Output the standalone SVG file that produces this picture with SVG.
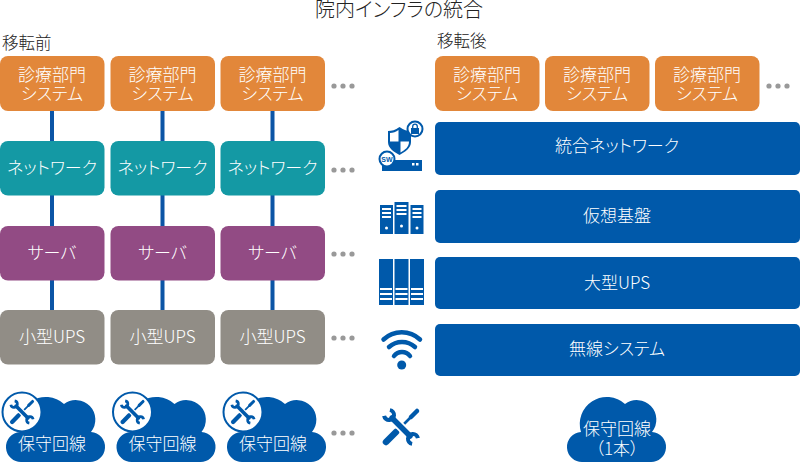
<svg xmlns="http://www.w3.org/2000/svg" width="800" height="463" viewBox="0 0 800 463">
<style>
text{font-family:"Noto Sans CJK JP","Noto Sans",sans-serif;text-anchor:middle;font-feature-settings:"palt";font-weight:300}
.t{fill:#222;font-size:20px}
.h{fill:#222;font-size:16.5px;text-anchor:start}
.w{fill:#fff;font-size:17px}
.o{fill:#E2873A}.g{fill:#1499A4}.p{fill:#924B84}.y{fill:#918D86}.b{fill:#0059AA}
.c{stroke:#0C55A6;stroke-width:4;fill:none}
.d{fill:#999}
.ic{fill:#0059AA}
.wh{fill:#fff}
</style>
<defs>
<g id="tool" fill="none" stroke="#0059AA" stroke-linecap="round">
<path d="M-15 15L-5 5" stroke-width="6.500"/>
<path d="M-5 5L9 -9" stroke-width="2.600"/>
<path d="M10 -10L16 -16" stroke-width="4.500"/>
<path d="M-9 -9L9 9" stroke="#fff" stroke-width="9" stroke-linecap="butt"/>
<path d="M-9 -9L9 9" stroke-width="5.500"/>
<path d="M-16.900 -11.100A5 5 0 1 0 -11.100 -16.900M16.900 11.100A5 5 0 1 0 11.100 16.900" stroke-width="4" stroke-linecap="butt"/>
</g>
<path id="cloud" class="b" d="M22 462A15 15 0 0 1 20 432A27 27 0 0 1 64 404A19.600 19.600 0 0 1 91 432A15 15 0 0 1 89 462Z"/>
<g id="cloudTool">
<use href="#cloud"/>
<circle cx="22" cy="412" r="19.500" fill="#fff" stroke="#0059AA" stroke-width="2"/>
<use href="#tool" transform="translate(22 412) scale(.66)"/>
<text class="w" x="52" y="450">保守回線</text>
</g>
<g id="dots"><circle class="d" cx="0" cy="0" r="2.600"/><circle class="d" cx="9" cy="0" r="2.600"/><circle class="d" cx="18" cy="0" r="2.600"/></g>
<g id="sys"><rect class="o" width="104.500" height="55" rx="8"/><text class="w" x="52" y="25">診療部門</text><text class="w" x="52" y="43.500">システム</text></g>
<g id="net"><rect class="g" width="104.500" height="54.500" rx="8"/><text class="w" x="52" y="33">ネットワーク</text></g>
<g id="srv"><rect class="p" width="104.500" height="54.500" rx="8"/><text class="w" x="52" y="33">サーバ</text></g>
<g id="ups"><rect class="y" width="104.500" height="54.500" rx="8"/><text class="w" x="52" y="33">小型UPS</text></g>
<g id="tower"><rect class="ic" width="13" height="29"/><rect class="wh" x="2" y="3" width="9" height="2"/><rect class="wh" x="2" y="7" width="9" height="2"/><rect class="wh" x="2" y="11" width="9" height="2"/><circle class="wh" cx="6.500" cy="23" r="1.500"/></g>
<g id="upsBar"><rect class="ic" width="14" height="46"/><rect class="wh" x="1" y="29" width="12" height="2"/><rect class="wh" x="1" y="34" width="12" height="2"/><rect class="wh" x="1" y="39" width="12" height="2"/></g>
</defs>
<g id="titles">
<text class="t" x="399" y="17">院内インフラの統合</text>
<text class="h" x="2" y="49">移転前</text>
<text class="h" x="437" y="47">移転後</text>
</g>
<g id="connectors">
<path class="c" d="M52 111V141M52 195V226M52 280V310M162.500 111V141M162.500 195V226M162.500 280V310M272.500 111V141M272.500 195V226M272.500 280V310"/>
</g>
<g id="before-sys-1"><use href="#sys" x="0" y="56"/></g>
<g id="before-sys-2"><use href="#sys" x="110.500" y="56"/></g>
<g id="before-sys-3"><use href="#sys" x="220.500" y="56"/></g>
<g id="before-net-1"><use href="#net" x="0" y="141"/></g>
<g id="before-net-2"><use href="#net" x="110.500" y="141"/></g>
<g id="before-net-3"><use href="#net" x="220.500" y="141"/></g>
<g id="before-srv-1"><use href="#srv" x="0" y="226"/></g>
<g id="before-srv-2"><use href="#srv" x="110.500" y="226"/></g>
<g id="before-srv-3"><use href="#srv" x="220.500" y="226"/></g>
<g id="before-ups-1"><use href="#ups" x="0" y="310"/></g>
<g id="before-ups-2"><use href="#ups" x="110.500" y="310"/></g>
<g id="before-ups-3"><use href="#ups" x="220.500" y="310"/></g>
<g id="before-line-1"><use href="#cloudTool"/></g>
<g id="before-line-2"><use href="#cloudTool" x="110.500"/></g>
<g id="before-line-3"><use href="#cloudTool" x="221"/></g>
<g id="before-more">
<use href="#dots" x="334" y="86"/><use href="#dots" x="334" y="170"/><use href="#dots" x="334" y="254"/><use href="#dots" x="334" y="338"/><use href="#dots" x="334" y="433"/>
</g>
<g id="after-sys-1"><use href="#sys" x="435" y="56"/></g>
<g id="after-sys-2"><use href="#sys" x="545" y="56"/></g>
<g id="after-sys-3"><use href="#sys" x="655" y="56"/></g>
<g id="after-more"><use href="#dots" x="769" y="86"/></g>
<g id="after-net"><rect class="b" x="435" y="122" width="365" height="53" rx="5"/><text class="w" x="617" y="152">統合ネットワーク</text></g>
<g id="after-virt"><rect class="b" x="435" y="190" width="365" height="53" rx="5"/><text class="w" x="617" y="222">仮想基盤</text></g>
<g id="after-ups"><rect class="b" x="435" y="257" width="365" height="52" rx="5"/><text class="w" x="617" y="289">大型UPS</text></g>
<g id="after-wireless"><rect class="b" x="435" y="324" width="365" height="52" rx="5"/><text class="w" x="617" y="355">無線システム</text></g>
<g id="after-line"><use href="#cloud" x="561"/><text class="w" x="617" y="435">保守回線</text><text class="w" x="617" y="455">（1本）</text></g>
<g id="icon-security">
<path class="ic" d="M399.500 127C395 130 392 131 388 131V142C388 148 394 152 399.500 155C405 152 411 148 411 142V131C407 131 404 130 399.500 127Z"/>
<path class="wh" d="M398.500 130V141.500H390V133C393 133 396 132 398.500 130ZM400.500 141.500H409C409 147 405 150 400.500 152.500Z"/>
<rect class="ic" x="382" y="160" width="40" height="11"/>
<rect class="wh" x="412" y="163" width="2.500" height="2.500"/><rect class="wh" x="416" y="163" width="2.500" height="2.500"/>
<circle cx="387" cy="159" r="7.500" fill="#fff" stroke="#0059AA" stroke-width="2"/>
<text x="387" y="162" font-size="7" style="font-family:'Liberation Sans',sans-serif;font-weight:700" fill="#0059AA">SW</text>
<circle cx="415" cy="129" r="7.500" fill="#fff" stroke="#0059AA" stroke-width="2"/>
<rect class="ic" x="411" y="128" width="8" height="6"/><path d="M412.700 128V126.500A2.300 2.300 0 0 1 417.300 126.500V128" fill="none" stroke="#0059AA" stroke-width="1.300"/>
</g>
<g id="icon-servers"><use href="#tower" x="380" y="205"/>
<rect class="ic" x="394.500" y="202" width="14" height="32"/><rect class="wh" x="396.500" y="205" width="10" height="2"/><rect class="wh" x="396.500" y="209" width="10" height="2"/><rect class="wh" x="396.500" y="213" width="10" height="2"/><circle class="wh" cx="401.500" cy="226" r="1.500"/>
<use href="#tower" x="410.500" y="205"/></g>
<g id="icon-ups"><use href="#upsBar" x="379" y="259"/><use href="#upsBar" x="394.500" y="259"/><use href="#upsBar" x="410" y="259"/></g>
<g id="icon-wifi"><path d="M383.500 339.500A26.600 26.600 0 0 1 420 339.500M389 347A19.300 19.300 0 0 1 415 347M394 356A10 10 0 0 1 410 356" fill="none" stroke="#0059AA" stroke-width="4.500" stroke-linecap="round"/><circle class="ic" cx="401.700" cy="365" r="4.500"/></g>
<g id="icon-tools"><use href="#tool" transform="translate(401 427)"/></g>
</svg>
